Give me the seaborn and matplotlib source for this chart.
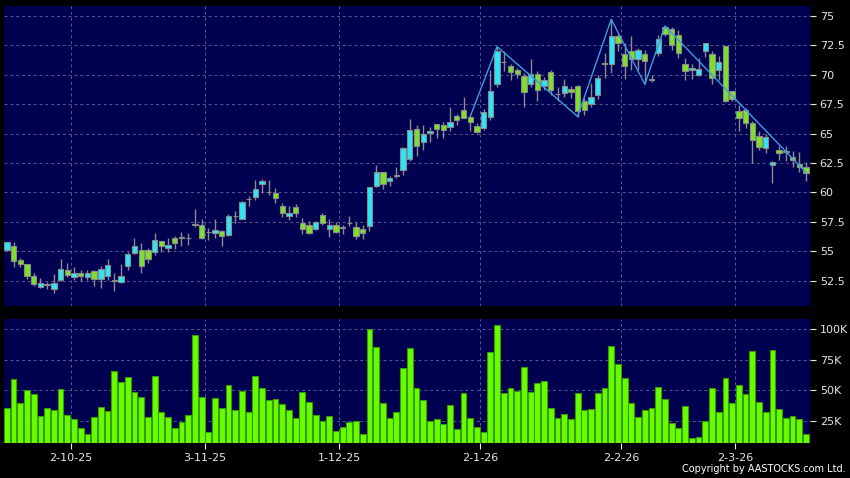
import numpy as np
import pandas as pd
import seaborn as sns
import matplotlib.pyplot as plt

# daily OHLC (HKD)
opens = [55.1, 55.4, 54.23, 53.95, 52.9, 51.99, 52.1, 51.82, 52.56, 53.38,
         52.81, 53.15, 52.81, 53.35, 52.64, 52.87, 52.55, 52.39, 53.75, 54.86,
         55.09, 55.11, 54.89, 55.85, 55.23, 56.11, 56.2, 56.1, 57.3, 57.19,
         56.65, 56.53, 56.7, 56.34, 58.0, 57.73, 59.4, 59.6, 60.71, 60.05,
         59.91, 58.84, 58.01, 58.78, 57.44, 57.27, 56.93, 58.04, 56.93, 57.22,
         57.05, 57.42, 57.07, 56.93, 57.13, 60.57, 61.7, 60.99, 61.4, 61.9,
         62.84, 65.37, 64.26, 65.03, 65.8, 65.74, 65.54, 66.48, 66.99, 66.39,
         65.63, 65.45, 66.45, 69.2, 71.1, 70.71, 70.43, 69.94, 69.23, 70.09,
         69.06, 70.28, 68.4, 68.44, 68.78, 69.01, 67.81, 67.5, 68.24, 71.0,
         70.94, 73.27, 71.76, 71.99, 71.34, 71.76, 69.65, 71.85, 74.06, 73.89,
         73.41, 70.94, 70.37, 70.0, 72.02, 71.79, 70.37, 72.41, 68.58, 66.88,
         67.02, 65.91, 64.77, 63.75, 62.33, 63.61, 63.48, 62.98, 62.41, 62.19]
highs = [55.75, 55.77, 54.4, 53.95, 53.18, 52.76, 52.39, 53.04, 54.32, 53.98,
         53.69, 53.44, 53.44, 53.44, 53.75, 54.32, 53.18, 53.95, 54.94, 56.08,
         55.71, 55.23, 56.53, 55.9, 56.11, 56.28, 56.65, 56.53, 58.61, 57.73,
         56.96, 57.76, 56.82, 58.18, 58.41, 59.29, 59.66, 61.08, 61.16, 61.02,
         60.34, 59.06, 58.84, 58.98, 57.84, 57.59, 57.59, 58.24, 57.7, 57.47,
         57.22, 57.98, 57.5, 57.2, 60.43, 62.33, 61.76, 61.39, 62.13, 63.89,
         66.25, 65.74, 65.74, 65.6, 65.8, 66.02, 67.3, 66.7, 68.1, 66.5,
         65.9, 67.1, 70.43, 72.4, 72.05, 70.94, 70.6, 70.14, 71.36, 70.3,
         69.8, 70.43, 68.92, 69.63, 69.06, 69.15, 68.0, 69.29, 70.0, 71.85,
         74.72, 73.5, 72.7, 73.27, 72.3, 72.07, 70.0, 73.41, 74.18, 74.1,
         73.78, 71.45, 70.94, 71.45, 72.73, 72.02, 71.56, 72.41, 68.58, 67.39,
         67.15, 66.1, 65.26, 64.97, 62.7, 63.98, 63.98, 63.55, 63.4, 62.56]
lows = [55.0, 53.66, 53.66, 52.67, 52.05, 51.9, 51.82, 51.48, 52.47, 52.81,
        52.53, 52.47, 52.53, 52.05, 51.9, 52.53, 51.62, 52.3, 53.38, 54.8,
        53.18, 53.98, 54.66, 54.91, 54.89, 55.2, 55.48, 55.54, 57.05, 56.0,
        55.97, 56.16, 55.45, 56.3, 57.39, 57.7, 58.81, 59.38, 59.94, 59.8,
        59.06, 57.87, 57.64, 57.93, 56.48, 56.48, 56.79, 57.22, 56.22, 56.51,
        56.42, 57.13, 56.02, 56.02, 56.73, 60.48, 60.28, 60.57, 61.19, 61.48,
        62.7, 63.13, 63.61, 64.26, 64.6, 64.66, 65.26, 65.77, 66.3, 65.26,
        65.03, 65.31, 66.16, 68.92, 70.34, 69.52, 69.7, 67.22, 69.0, 67.81,
        68.72, 68.3, 67.73, 68.07, 68.01, 66.45, 66.59, 67.22, 67.93, 69.72,
        70.14, 71.99, 69.66, 70.43, 70.43, 69.2, 69.35, 71.56, 73.27, 72.13,
        71.45, 69.52, 69.66, 69.89, 71.5, 69.23, 69.6, 67.67, 67.81, 65.26,
        65.45, 62.47, 63.61, 63.32, 60.77, 62.76, 62.7, 62.13, 61.7, 61.0]
closes = [55.75, 54.18, 53.95, 52.9, 52.24, 52.33, 52.2, 52.33, 53.47, 52.98,
          53.15, 52.93, 53.18, 52.64, 53.47, 53.86, 52.5, 52.93, 54.72, 55.48,
          53.72, 54.32, 55.97, 55.48, 55.51, 55.68, 56.1, 56.08, 57.2, 56.08,
          56.6, 56.82, 56.25, 57.98, 58.02, 59.2, 59.45, 60.3, 60.99, 60.0,
          59.55, 58.21, 58.21, 58.21, 56.85, 56.51, 57.5, 57.36, 57.22, 56.65,
          57.0, 57.4, 56.31, 56.56, 60.43, 61.7, 60.71, 61.19, 61.45, 63.75,
          65.31, 63.95, 65.0, 65.26, 65.43, 65.28, 65.97, 66.19, 66.36, 65.97,
          65.11, 66.82, 68.61, 71.99, 71.05, 70.2, 70.03, 68.52, 70.03, 68.72,
          69.52, 68.72, 68.35, 69.01, 68.55, 66.93, 67.02, 68.07, 69.72, 70.95,
          73.27, 72.7, 70.71, 71.34, 72.13, 71.14, 69.6, 73.04, 73.49, 72.56,
          71.88, 70.31, 70.57, 70.51, 72.73, 69.74, 71.08, 67.76, 67.95, 66.31,
          65.91, 64.46, 63.89, 64.69, 62.59, 63.35, 63.45, 62.76, 62.13, 61.68]
# volume in thousands
volume_k = [35.3, 59.0, 39.7, 50.0, 47.0, 28.8, 35.3, 34.2, 50.8, 29.9,
            26.6, 19.3, 14.4, 28.0, 36.4, 33.4, 65.5, 56.5, 60.6, 48.9,
            44.6, 28.5, 61.7, 32.3, 28.5, 19.0, 23.9, 29.6, 95.1, 44.3,
            16.3, 43.7, 35.9, 54.3, 34.0, 49.5, 32.1, 61.4, 52.2, 42.1,
            43.2, 38.6, 34.2, 27.7, 48.6, 40.5, 29.9, 25.3, 29.1, 16.6,
            19.8, 24.2, 25.3, 14.4, 100.0, 85.3, 39.4, 27.2, 32.6, 68.5,
            84.2, 51.9, 42.4, 25.0, 26.6, 22.3, 37.8, 18.2, 47.6, 27.7,
            19.8, 16.3, 81.0, 103.5, 47.6, 52.2, 49.7, 69.0, 48.4, 55.7,
            57.9, 35.3, 27.4, 30.7, 26.4, 48.1, 34.0, 35.1, 47.8, 51.9,
            85.9, 71.7, 60.0, 39.7, 28.3, 34.2, 35.6, 52.4, 42.9, 23.6,
            19.6, 37.2, 11.4, 12.2, 25.0, 52.2, 32.1, 60.1, 39.9, 54.1,
            47.0, 81.8, 40.5, 32.6, 82.6, 34.8, 27.2, 28.8, 26.9, 14.1]

tick_idx = [9, 29, 49, 70, 91, 108]
tick_labels = ['2-10-25', '3-11-25', '1-12-25', '2-1-26', '2-2-26', '2-3-26']
zigzag_idx = [69, 73, 85, 90, 95, 98, 119]
zigzag_price = [66.45, 72.4, 66.45, 74.72, 69.2, 74.15, 61.7]
price_ticks = [52.5, 55, 57.5, 60, 62.5, 65, 67.5, 70, 72.5, 75]
vol_ticks = [25, 50, 75, 100]

df = pd.DataFrame({'open': opens, 'high': highs, 'low': lows,
                   'close': closes, 'vol': volume_k})
df['x'] = np.arange(len(df))
df['up'] = df['close'] >= df['open']

navy = '#000050'
sns.set_style('dark', {'axes.facecolor': navy, 'figure.facecolor': 'black'})
plt.rcParams['font.family'] = ['DejaVu Sans']

fig = plt.figure(figsize=(8.5, 4.78), dpi=100)
fig.patch.set_facecolor('black')
axp = fig.add_axes([4 / 850, 172 / 478, 806 / 850, 300 / 478])
axv = fig.add_axes([4 / 850, 35 / 478, 806 / 850, 124 / 478])

# candles
axp.vlines(df['x'], df['low'], df['high'], color='#8c8c8c', lw=1, zorder=2)
body_lo = df[['open', 'close']].min(axis=1)
body_h = (df['close'] - df['open']).abs()
fill = np.where(df['up'], '#2ee6f6', '#7ee02a')
axp.bar(df['x'], body_h, bottom=body_lo, width=0.8, color=fill,
        edgecolor='#8a8a8a', linewidth=0.8, zorder=3)
sns.lineplot(x=zigzag_idx, y=zigzag_price, color='#3d9de0', lw=1,
             ax=axp, zorder=4)

# volume
sns.barplot(data=df, x='x', y='vol', native_scale=True, color='#66ff00',
            saturation=1, edgecolor='#3c9a00', linewidth=0.8, width=0.86,
            errorbar=None, ax=axv, zorder=3)

for ax in (axp, axv):
    ax.set_facecolor(navy)
    ax.set_xlim(-0.43, 119.6)
    for s in ax.spines.values():
        s.set_visible(False)
    ax.yaxis.tick_right()
    ax.set_xticks([i + 0.5 for i in tick_idx])
    ax.grid(True, color='#5a5a90', linestyle=(0, (3, 3)), lw=0.7, zorder=1)
    ax.set_axisbelow(True)
    ax.tick_params(colors='#e6e6e6', labelsize=8, length=4, pad=3,
                   left=False, right=True, bottom=True)
    ax.set_xlabel('')
    ax.set_ylabel('')

axp.set_ylim(50.34, 75.85)
axp.set_yticks(price_ticks)
axp.set_yticklabels([f'{t:g}' for t in price_ticks])
axp.set_xticklabels([])
axp.tick_params(axis='x', length=0)

axv.set_ylim(7.1, 108)
axv.set_yticks(vol_ticks)
axv.set_yticklabels([f'{t}K' for t in vol_ticks])
axv.set_xticklabels(tick_labels)

fig.text(0.995, 0.008, 'Copyright by AASTOCKS.com Ltd.', ha='right',
         va='bottom', color='white', fontsize=7)

fig.savefig('out.png', dpi=100, facecolor='black')
